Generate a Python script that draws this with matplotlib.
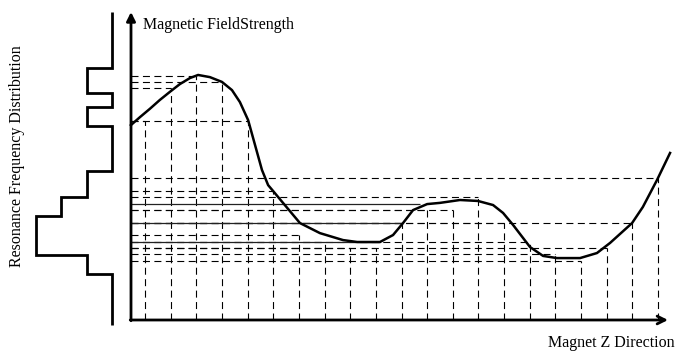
import matplotlib
matplotlib.use("Agg")
import matplotlib.pyplot as plt
import numpy as np

plt.rcParams['font.family'] = ['Liberation Serif', 'DejaVu Serif']

# Magnetic field strength along the magnet axis (arbitrary units)
curve_z = [0.45, 0.80, 1.19, 1.58, 2.01, 2.36, 2.75, 3.07, 3.53, 4.00, 4.39, 4.70,
           5.02, 5.29, 5.56, 5.80, 5.99, 6.38, 7.04, 7.82, 8.72, 9.27, 10.16, 10.67,
           11.06, 11.45, 12.00, 12.50, 13.28, 13.98, 14.57, 14.96, 15.35, 16.01,
           16.52, 17.06, 17.96, 18.62, 19.13, 19.99, 20.41, 20.96, 21.47]
curve_b = [8.12, 8.45, 8.80, 9.17, 9.54, 9.83, 10.08, 10.21, 10.12, 9.92, 9.58, 9.08,
           8.33, 7.29, 6.25, 5.62, 5.38, 4.88, 4.04, 3.62, 3.33, 3.25, 3.25, 3.54,
           4.04, 4.58, 4.83, 4.88, 5.00, 4.96, 4.79, 4.46, 3.96, 3.04,
           2.67, 2.58, 2.58, 2.79, 3.21, 4.04, 4.71, 5.83, 6.96]

# Sampling positions along Z and the field read at each of them
sample_z = list(range(1, 22))
sample_b = [8.29, 9.67, 10.18, 9.92, 8.29, 5.38, 3.54, 3.25, 3.00, 3.00, 4.04,
            4.58, 4.58, 5.12, 4.04, 3.25, 2.75, 2.46, 3.00, 4.04, 5.92]

# Level lines drawn solid
level_b = [4.83, 4.04, 3.25]
level_z = [11.72, 11.02, 10.16]

# Resonance frequency histogram (field bins, counts)
hist_edges = [-0.21, 1.92, 2.71, 4.33, 5.125, 6.21, 8.08, 8.875, 9.46, 10.5, 12.85]
hist_counts = [0, 1, 3, 2, 1, 0, 1, 0, 1, 0]

W, H = 676, 353
fig = plt.figure(figsize=(W / 100, H / 100), dpi=100)

px_per_z = 25.65
px_per_b = 24.0
z_axis = 0.454
x0_px, y0_px = 131, 320

xlim = (z_axis - x0_px / px_per_z, z_axis + (W - x0_px) / px_per_z)
ylim = (-(H - y0_px) / px_per_b, y0_px / px_per_b)

ax = fig.add_axes([0, 0, 1, 1])
ax.set_xlim(*xlim)
ax.set_ylim(*ylim)
ax.axis('off')

dash = (0, (6.3, 4.0))
ax.vlines(sample_z, 0, sample_b, colors='black', linestyles=dash, lw=0.8)
ax.hlines(sample_b, z_axis, sample_z, colors='black', linestyles=dash, lw=0.8)
ax.hlines(level_b, z_axis, level_z, colors='#222222', linestyles='solid', lw=0.9)

ax.plot(curve_z, curve_b, color='black', lw=1.8, solid_joinstyle='round')

# Axes with arrows
z_end = z_axis + (668 - x0_px) / px_per_z
b_end = (y0_px - 12) / px_per_b
ax.annotate('', xy=(z_end, 0), xytext=(z_axis - 0.03, 0),
            arrowprops=dict(arrowstyle='->', lw=2.0, color='black',
                            mutation_scale=14, shrinkA=0, shrinkB=0))
ax.annotate('', xy=(z_axis, b_end), xytext=(z_axis, -0.03),
            arrowprops=dict(arrowstyle='-|>', lw=2.0, color='black',
                            mutation_scale=13, shrinkA=0, shrinkB=0))

# Histogram to the left of the field axis
hist_px = 120
hax = fig.add_axes([0, 0, hist_px / W, 1])
hax.set_xlim(112 / 25.5, -(hist_px - 112) / 25.5)
hax.set_ylim(*ylim)
hax.axis('off')
hax.stairs(hist_counts, hist_edges, orientation='horizontal', color='black',
           lw=2.0, baseline=None)

fig.text(143 / W, 1 - 25 / H, 'Magnetic FieldStrength', fontsize=11.5,
         ha='left', va='center')
fig.text(548 / W, 1 - 343 / H, 'Magnet Z Direction', fontsize=11.5,
         ha='left', va='center')
fig.text(17 / W, 1 - 156 / H, 'Resonance Frequency Distribution', fontsize=11.5,
         rotation=90, ha='center', va='center')

fig.savefig('out.png', dpi=100)
